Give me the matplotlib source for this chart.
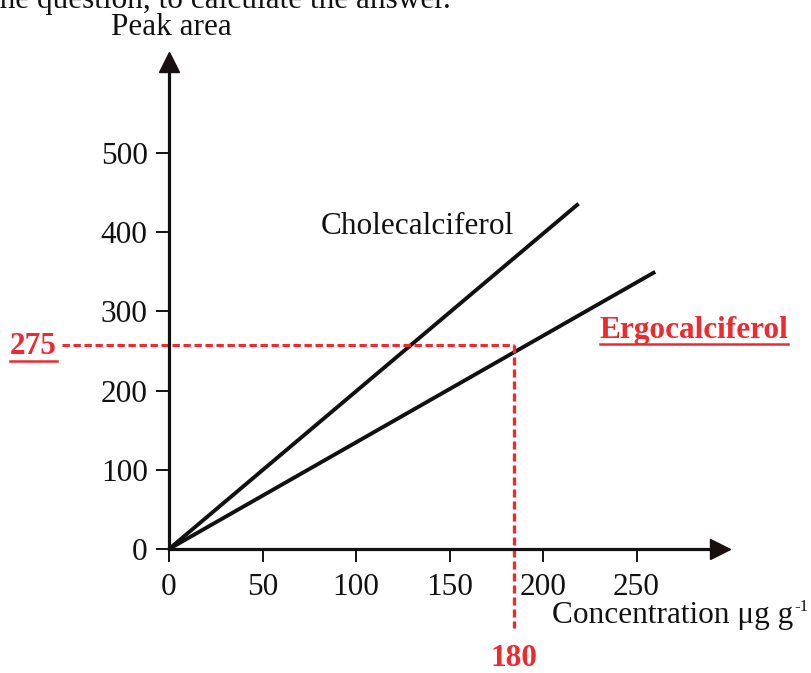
import matplotlib
matplotlib.use("Agg")
import matplotlib.pyplot as plt
from matplotlib.lines import Line2D

plt.rcParams['font.family'] = ['Liberation Serif', 'DejaVu Serif']

# ---- data ----
x_ticks = [0, 50, 100, 150, 200, 250]
y_ticks = [0, 100, 200, 300, 400, 500]
chole_x = [0, 219]
chole_y = [0, 436]
ergo_x = [0, 260]
ergo_y = [0, 350]
read_x = 184.5          # where the red vertical reading line sits
read_y = 257.6          # where the red horizontal reading line sits
read_x_label = "180"
read_y_label = "275"
series_names = ["Cholecalciferol", "Ergocalciferol"]

RED = '#ec2a30'
FS = 22.5
W, H = 811, 673

fig = plt.figure(figsize=(W / 100, H / 100), dpi=100)
ax = fig.add_axes([0, 0, 1, 1])
ax.set_xlim(-90.4, 343.3)
ax.set_ylim(-156.6, 693.2)
ax.patch.set_alpha(0)

for s in ['top', 'right']:
    ax.spines[s].set_visible(False)
ax.spines['left'].set_position(('data', 0))
ax.spines['bottom'].set_position(('data', 0))
ax.spines['left'].set_bounds(0, 605)
ax.spines['bottom'].set_bounds(0, 290)
for s in ['left', 'bottom']:
    ax.spines[s].set_linewidth(2.3)
    ax.spines[s].set_color('#111')

ax.set_xticks(x_ticks)
ax.set_yticks(y_ticks)
ax.tick_params(direction='out', length=9.4, width=1.4, color='#111',
               labelsize=FS, labelcolor='#111')
ax.tick_params(axis='y', pad=6)
ax.tick_params(axis='x', pad=8)

# arrow heads
ax.plot([0], [615], marker='^', ms=14.5, color='#1a0f0f', clip_on=False)
ax.plot([294.6], [0], marker='>', ms=14.5, color='#1a0f0f', clip_on=False)

# data lines
ax.plot(chole_x, chole_y, color='#111', lw=2.8, solid_capstyle='butt')
ax.plot(ergo_x, ergo_y, color='#111', lw=2.8, solid_capstyle='butt')

# reading lines
ax.plot([-57.2, read_x], [read_y, read_y], color=RED, lw=2.2,
        dashes=(2.4, 1.2), clip_on=False)
ax.plot([read_x, read_x], [read_y, -99.7], color=RED, lw=2.4,
        dashes=(2.4, 1.2), clip_on=False)

# texts
ax.text(132.6, 407.8, series_names[0], fontsize=FS, color='#111',
        ha='center', va='center')
t_ergo = ax.text(280.7, 276, series_names[1], fontsize=FS, color=RED,
                 fontweight='bold', ha='center', va='center')
t_275 = ax.text(-59.9, read_y - 2, read_y_label, fontsize=FS, color=RED,
                fontweight='bold', ha='right', va='center')
ax.text(read_x, -147.5, read_x_label, fontsize=FS, color=RED,
        fontweight='bold', ha='center', va='baseline')
ax.text(1.07, 659, "Peak area", fontsize=FS, color='#111',
        ha='center', va='center')
t_conc = ax.text(204.8, -84.5, "Concentration μg g",
                 fontsize=FS, color='#111', ha='left', va='center')

fig.text(-9 / W, (H - 8) / H, "the question, to calculate the answer.",
         fontsize=FS, color='#111', ha='left', va='baseline')

# underline the red bold labels, place the unit's superscript
fig.canvas.draw()
r = fig.canvas.get_renderer()
for t in (t_ergo, t_275):
    bb = t.get_window_extent(renderer=r)
    yline = bb.y0 + 0.5
    fig.add_artist(Line2D([bb.x0 / W, bb.x1 / W], [yline / H, yline / H],
                          transform=fig.transFigure, color=RED, lw=1.8))
bb = t_conc.get_window_extent(renderer=r)
fig.text((bb.x1 + 1) / W, (bb.y1 - 14) / H, "-1", fontsize=12, color='#111',
         ha='left', va='bottom')

fig.savefig("out.png", dpi=100)
